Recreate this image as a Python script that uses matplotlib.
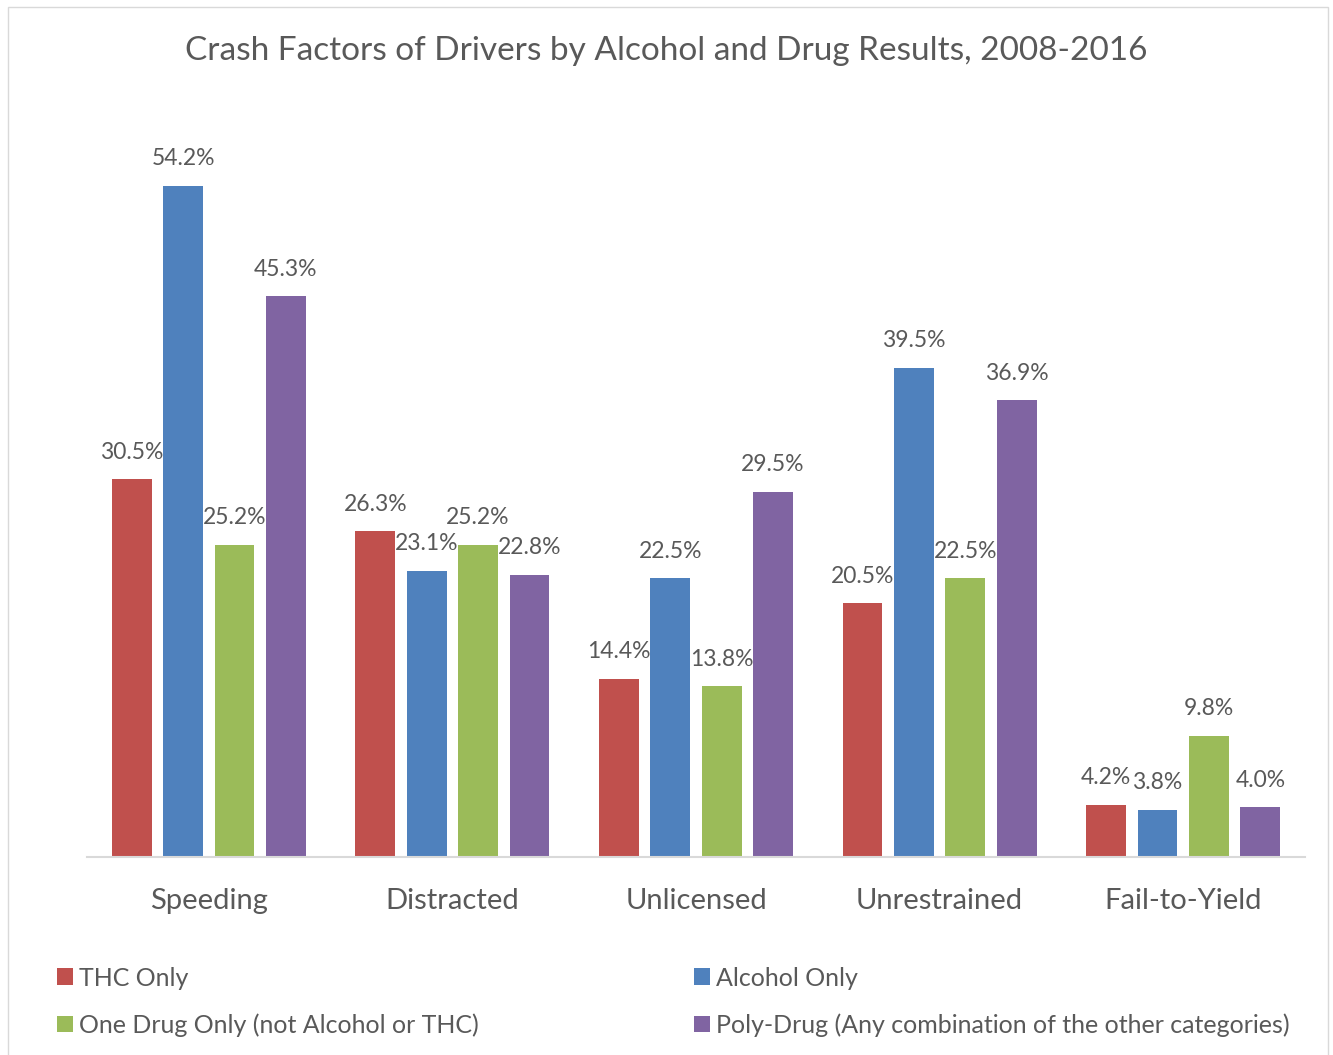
import numpy as np
import matplotlib.pyplot as plt
from matplotlib.patches import Rectangle

plt.rcParams['font.family'] = ['Lato', 'DejaVu Sans']

categories = ['Speeding', 'Distracted', 'Unlicensed', 'Unrestrained', 'Fail-to-Yield']
series_names = ['THC Only', 'Alcohol Only', 'One Drug Only (not Alcohol or THC)',
                'Poly-Drug (Any combination of the other categories)']
thc = [30.5, 26.3, 14.4, 20.5, 4.2]
alcohol = [54.2, 23.1, 22.5, 39.5, 3.8]
one_drug = [25.2, 25.2, 13.8, 22.5, 9.8]
poly = [45.3, 22.8, 29.5, 36.9, 4.0]
colors = ['#C0504D', '#4F81BD', '#9BBB59', '#8064A2']

text_color = '#595959'

fig = plt.figure(figsize=(13.33, 10.55), dpi=100)
fig.patches.append(Rectangle((8 / 1333, -0.01), 1320 / 1333, 1.0 - 7 / 1055 + 0.01,
                             transform=fig.transFigure, fill=False,
                             edgecolor='#D9D9D9', linewidth=1))

ax = fig.add_axes([87 / 1333, (1055 - 857) / 1055, 1218 / 1333, (857 - 114) / 1055])

x = np.arange(len(categories))
pitch = 0.211
width = 0.164
for i, (vals, name, c) in enumerate(zip([thc, alcohol, one_drug, poly], series_names, colors)):
    pos = x + (i - 1.5) * pitch
    bars = ax.bar(pos, vals, width=width, color=c, label=name)
    for b, v in zip(bars, vals):
        ax.annotate(f'{v:.1f}%', (b.get_x() + b.get_width() / 2, v),
                    xytext=(0, 27), textcoords='offset pixels',
                    ha='center', va='center', fontsize=16.5, color=text_color)

ax.set_xlim(-0.5, 4.5)
ax.set_ylim(0, 60)
ax.set_yticks([])
ax.set_xticks(x)
ax.set_xticklabels(categories, fontsize=21, color=text_color)
ax.tick_params(axis='x', length=0, pad=22)
for s in ['top', 'right', 'left']:
    ax.spines[s].set_visible(False)
ax.spines['bottom'].set_color('#D9D9D9')
ax.spines['bottom'].set_linewidth(1.5)

fig.text(0.5, 1 - 51 / 1055, 'Crash Factors of Drivers by Alcohol and Drug Results, 2008-2016',
         ha='center', va='center', fontsize=24, color=text_color)

handles, labels = ax.get_legend_handles_labels()
order = [0, 2, 1, 3]
leg = fig.legend([handles[k] for k in order], [labels[k] for k in order],
                 ncol=2, loc='upper left', bbox_to_anchor=(34 / 1333, 1 - 944 / 1055),
                 frameon=False, fontsize=18, handlelength=0.65, handleheight=0.65,
                 handletextpad=0.25, columnspacing=8.6, labelspacing=0.95,
                 labelcolor=text_color)

fig.savefig('out.png', dpi=100)
